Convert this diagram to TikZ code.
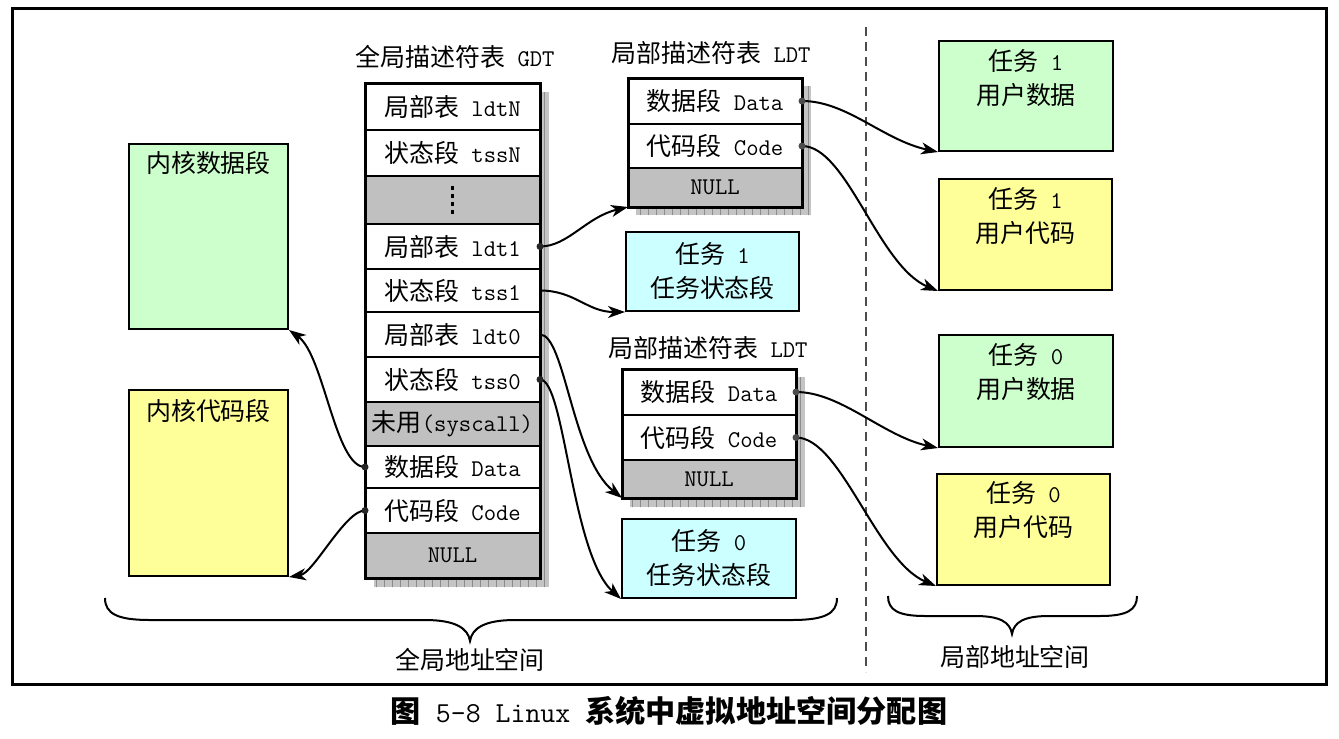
\documentclass[tikz,border=0pt]{standalone}
\usepackage{fontspec}
\newfontfamily\cjk{Noto Sans CJK SC}[Scale=1.04]
\usetikzlibrary{arrows.meta}
\definecolor{kgreen}{HTML}{CCFFCC}
\definecolor{kyellow}{HTML}{FFFF99}
\definecolor{kcyan}{HTML}{CCFFFF}
\definecolor{rowgray}{HTML}{C0C0C0}
\definecolor{shadowgray}{HTML}{C4C4C4}
\tikzset{
  txt/.style={font=\ttfamily\fontsize{24}{34}\selectfont},
  tabrow/.style={draw, line width=2pt, minimum width=175pt, inner sep=0pt, outer sep=0pt, fill=white, txt},
  ldtrow/.style={tabrow, minimum width=174pt},
  grayfill/.style={fill=rowgray},
  tbox/.style={draw, line width=2pt, inner sep=0pt, txt, align=center},
  toplabel/.style={txt, align=center, anchor=north, inner sep=0pt},
  conn/.style={line width=2pt, -{Stealth[length=17pt,width=12pt,inset=5pt]}},
  startdot/.style={circle, fill=black!85, inner sep=0pt, minimum size=7pt},
  tabframe/.style={line width=3pt},
  shadowbox/.style={fill=shadowgray},
  bracepath/.style={line width=2pt},
}
\begin{document}
\begin{tikzpicture}[x=1pt,y=-1pt]
\useasboundingbox (0,0) rectangle (1339,739);
% outer frame
\draw[line width=3pt] (12,8) rectangle (1326,684);
% dashed separator
\draw[line width=1.6pt, black!70, dash pattern=on 9pt off 6pt] (866,27) -- (866,672);

% ---------- shadows ----------
\fill[shadowbox] (374,92) rectangle (549,587);
\fill[shadowbox] (636,86) rectangle (811,215);
\fill[shadowbox] (630,377) rectangle (805,507);
\begin{scope}
  \clip (374,92) rectangle (549,587) (636,86) rectangle (811,215) (630,377) rectangle (805,507);
  \draw[black!45, line width=0.5pt] (360,80) grid[xstep=8,ystep=8] (820,600);
\end{scope}

% ---------- GDT ----------
\node[txt] (gdttitle) at (455,57) {{\cjk 全局描述符表} GDT};
\node[tabrow, minimum height=47pt] (gN)   at (452.5,106.5) {{\cjk 局部表} ldtN};
\node[tabrow, minimum height=46pt] (gtN)  at (452.5,153)   {{\cjk 状态段} tssN};
\node[tabrow, grayfill, minimum height=48pt] (gdots) at (452.5,200) {};
\node[tabrow, minimum height=45pt] (gl1)  at (452.5,246.5) {{\cjk 局部表} ldt1};
\node[tabrow, minimum height=43pt] (gt1)  at (452.5,290.5) {{\cjk 状态段} tss1};
\node[tabrow, minimum height=45pt] (gl0)  at (452.5,334.5) {{\cjk 局部表} ldt0};
\node[tabrow, minimum height=45pt] (gt0)  at (452.5,379.5) {{\cjk 状态段} tss0};
\node[tabrow, grayfill, minimum height=44pt] (gun) at (452.5,424) {{\cjk 未用}(syscall)};
\node[tabrow, minimum height=42pt] (gd)   at (452.5,467)   {{\cjk 数据段} Data};
\node[tabrow, minimum height=45pt] (gc)   at (452.5,510.5) {{\cjk 代码段} Code};
\node[tabrow, grayfill, minimum height=45pt] (gnull) at (452.5,555.5) {NULL};
\draw[tabframe] (gN.north west) rectangle (gnull.south east);
\foreach \dy in {-12,-4,4,12}
  \fill (451,200+\dy-1.6) rectangle +(3.2,3.2);

% ---------- LDT of task 1 ----------
\node[txt] (l1title) at (711,53) {{\cjk 局部描述符表} LDT};
\node[ldtrow, minimum height=46pt] (l1d) at (715,101)   {{\cjk 数据段} Data};
\node[ldtrow, minimum height=44pt] (l1c) at (715,146)   {{\cjk 代码段} Code};
\node[ldtrow, grayfill, minimum height=39pt] (l1n) at (715,187.5) {NULL};
\draw[tabframe] (l1d.north west) rectangle (l1n.south east);

% ---------- LDT of task 0 ----------
\node[txt] (l0title) at (708,348) {{\cjk 局部描述符表} LDT};
\node[ldtrow, minimum height=46pt] (l0d) at (709,392)   {{\cjk 数据段} Data};
\node[ldtrow, minimum height=45pt] (l0c) at (709,437.5) {{\cjk 代码段} Code};
\node[ldtrow, grayfill, minimum height=38pt] (l0n) at (709,479) {NULL};
\draw[tabframe] (l0d.north west) rectangle (l0n.south east);

% ---------- TSS boxes ----------
\node[tbox, fill=kcyan, minimum width=173pt, minimum height=79pt] (t1s) at (712.5,271.5) {{\cjk 任务} 1\\{\cjk 任务状态段}};
\node[tbox, fill=kcyan, minimum width=174pt, minimum height=79pt] (t0s) at (709,558.5) {{\cjk 任务} 0\\{\cjk 任务状态段}};

% ---------- kernel segments ----------
\node[tbox, fill=kgreen, minimum width=159pt, minimum height=185pt,
      label={[toplabel, yshift=-8pt]north:{\cjk 内核数据段}}] (kd) at (208.5,236.5) {};
\node[tbox, fill=kyellow, minimum width=159pt, minimum height=186pt,
      label={[toplabel, yshift=-10pt]north:{\cjk 内核代码段}}] (kc) at (208.5,483) {};

% ---------- user segments ----------
\node[tbox, fill=kgreen, minimum width=174pt, minimum height=110pt,
      label={[toplabel, yshift=-9pt]north:{{\cjk 任务} 1\\{\cjk 用户数据}}}] (t1d) at (1026,96) {};
\node[tbox, fill=kyellow, minimum width=173pt, minimum height=111pt,
      label={[toplabel, yshift=-9pt]north:{{\cjk 任务} 1\\{\cjk 用户代码}}}] (t1c) at (1025.5,234.5) {};
\node[tbox, fill=kgreen, minimum width=174pt, minimum height=112pt,
      label={[toplabel, yshift=-9pt]north:{{\cjk 任务} 0\\{\cjk 用户数据}}}] (t0d) at (1026,391) {};
\node[tbox, fill=kyellow, minimum width=173pt, minimum height=111pt,
      label={[toplabel, yshift=-8pt]north:{{\cjk 任务} 0\\{\cjk 用户代码}}}] (t0c) at (1023.5,529.5) {};

% ---------- connectors ----------
\draw[conn] (gl1.east) .. controls +(28,0) and +(-42,10) .. (l1n.south west);
\draw[conn] (gt1.east) .. controls +(35,0) and +(-38,0) .. (t1s.south west);
\draw[conn] (gl0.east) .. controls +(25,0) and +(-50,-40) .. (l0n.south west);
\draw[conn] (gt0.east) .. controls +(25,0) and +(-50,-45) .. (t0s.south west);
\draw[conn] (gd.west) .. controls +(-30,0) and +(35,25) .. (kd.south east);
\draw[conn] (gc.west) .. controls +(-20,0) and +(25,-4) .. (kc.south east);
\draw[conn] (l1d.east) .. controls +(45,0) and +(-55,-12) .. (t1d.south west);
\draw[conn] (l1c.east) .. controls +(45,0) and +(-60,-25) .. (t1c.south west);
\draw[conn] (l0d.east) .. controls +(45,0) and +(-55,-12) .. (t0d.south west);
\draw[conn] (l0c.east) .. controls +(45,0) and +(-60,-25) .. (t0c.south west);
% start dots
\node[startdot] at (gl1.east) {};
\node[startdot] at (gt0.east) {};
\node[startdot] at (gd.west) {};
\node[startdot] at (gc.west) {};
\node[startdot, fill=black!70] at (l1d.east) {};
\node[startdot, fill=black!70] at (l1c.east) {};
\node[startdot, fill=black!70] at (l0d.east) {};
\node[startdot, fill=black!70] at (l0c.east) {};

% ---------- braces ----------
\draw[bracepath] (105,598) .. controls (105,614) and (118,620) .. (150,620)
  -- (425,620) .. controls (455,620) and (468,628) .. (470,641)
  .. controls (472,628) and (485,620) .. (515,620)
  -- (792,620) .. controls (824,620) and (837,614) .. (837,598);
\draw[bracepath] (888,596) .. controls (888,610) and (898,616) .. (925,616)
  -- (975,616) .. controls (1000,616) and (1010,622) .. (1012,634)
  .. controls (1014,622) and (1024,616) .. (1049,616)
  -- (1100,616) .. controls (1127,616) and (1137,610) .. (1137,596);
\node[txt] (glabel) at (470,660) {\cjk 全局地址空间};
\node[txt] (llabel) at (1015,657) {\cjk 局部地址空间};

% ---------- caption ----------
\node[font=\ttfamily\fontsize{29}{32}\selectfont] (caption) at (669,711)
  {{\cjk\bfseries 图} 5-8 Linux {\cjk\bfseries 系统中虚拟地址空间分配图}};
\end{tikzpicture}
\end{document}
